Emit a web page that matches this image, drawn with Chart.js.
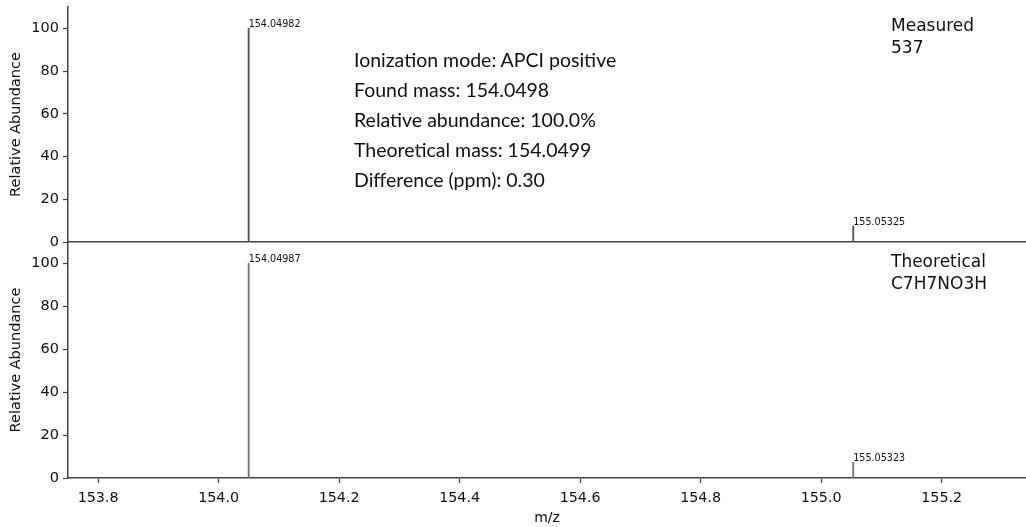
<!DOCTYPE html>
<html>
<head>
<meta charset="utf-8">
<script src="https://cdn.jsdelivr.net/npm/chart.js@4.4.1/dist/chart.umd.min.js"></script>
<style>
  body { margin: 0; background: #fff; }
  #wrap { position: relative; width: 1026px; height: 527px; overflow: hidden; }
  .panel { position: absolute; left: 0; width: 1026px; }
  .title { position: absolute; left: 891px; font: 17px "DejaVu Sans"; line-height: 22px; color: #111; }
  #info { position: absolute; left: 354px; top: 45px; font: 19.5px "Lato"; line-height: 30px; color: #111; }
</style>
</head>
<body>
<div id="wrap">
  <div class="panel" style="top:242px;height:285px"><canvas id="bottomChart"></canvas></div>
  <div class="panel" style="top:0;height:252px"><canvas id="topChart"></canvas></div>
  <div id="info">
    Ionization mode: APCI positive<br>
    Found mass: 154.0498<br>
    Relative abundance: 100.0%<br>
    Theoretical mass: 154.0499<br>
    Difference (ppm): 0.30
  </div>
  <div class="title" style="top:14px">Measured<br>537</div>
  <div class="title" style="top:250px">Theoretical<br>C7H7NO3H</div>
</div>
<script>
// peaks (m/z, relative abundance)
var measuredMz = [154.04982, 155.05325];
var measuredAb = [100, 7.5];
var theoreticalMz = [154.04987, 155.05323];
var theoreticalAb = [100, 7.3];

var xTicks = [153.8, 154.0, 154.2, 154.4, 154.6, 154.8, 155.0, 155.2];
var yTicks = [0, 20, 40, 60, 80, 100];

var axisColor = '#444';

// writes the m/z value above each stick
var peakLabels = {
    id: 'peakLabels',
    afterDatasetsDraw: function(chart) {
        var ctx = chart.ctx;
        var meta = chart.getDatasetMeta(0);
        var mz = chart.data.datasets[0].mzLabels;
        ctx.save();
        ctx.font = '9.6px "DejaVu Sans"';
        ctx.fillStyle = '#111';
        ctx.textBaseline = 'bottom';
        meta.data.forEach(function(bar, i) {
            ctx.fillText(mz[i].toFixed(5), bar.x, bar.y + 1);
        });
        ctx.restore();
    }
};

function makeChart(id, mz, ab, color, isBottom) {
    var points = [];
    for (var i = 0; i < mz.length; i++) {
        points.push({x: mz[i], y: ab[i]});
    }
    return new Chart(document.getElementById(id), {
        type: 'bar',
        data: {
            datasets: [{
                data: points,
                mzLabels: mz,
                backgroundColor: color,
                barThickness: 1.2,
                borderWidth: 0
            }]
        },
        options: {
            responsive: true,
            maintainAspectRatio: false,
            animation: false,
            layout: { padding: { top: isBottom ? 0 : 7, right: 0, left: 0, bottom: 0 } },
            plugins: { legend: { display: false }, tooltip: { enabled: false } },
            scales: {
                x: {
                    type: 'linear',
                    offset: false,
                    min: 153.75,
                    max: 155.34,
                    afterBuildTicks: function(s) { s.ticks = xTicks.map(function(v) { return {value: v}; }); },
                    afterFit: function(s) {
                        s.height = isBottom ? 49 : 10;
                        s.paddingLeft = 0;
                        s.paddingRight = 0;
                    },
                    border: { display: true, color: axisColor, width: 1.5 },
                    grid: { offset: false, drawOnChartArea: false, drawTicks: isBottom, tickLength: 5, color: axisColor, tickWidth: 1.2 },
                    ticks: {
                        display: isBottom,
                        padding: 7,
                        color: '#111',
                        font: { family: 'DejaVu Sans', size: 14.3 },
                        maxRotation: 0,
                        callback: function(v) { return v.toFixed(1); }
                    },
                    title: {
                        display: isBottom,
                        text: 'm/z',
                        color: '#111',
                        font: { family: 'DejaVu Sans', size: 14 },
                        padding: { top: 0, bottom: 0 }
                    }
                },
                y: {
                    min: 0,
                    max: 110,
                    afterBuildTicks: function(s) { s.ticks = yTicks.map(function(v) { return {value: v}; }); },
                    afterFit: function(s) {
                        s.width = 68;
                        s.paddingTop = 0;
                        s.paddingBottom = 0;
                    },
                    border: { display: true, color: axisColor, width: 1.5 },
                    grid: { drawOnChartArea: false, drawTicks: true, tickLength: 5, color: axisColor, tickWidth: 1.2 },
                    ticks: {
                        padding: 4,
                        color: '#111',
                        font: { family: 'DejaVu Sans', size: 14.5 }
                    },
                    title: {
                        display: true,
                        text: 'Relative Abundance',
                        color: '#111',
                        font: { family: 'DejaVu Sans', size: 14.5 },
                        padding: { top: 8, bottom: 0 }
                    }
                }
            }
        },
        plugins: [peakLabels]
    });
}

makeChart('topChart', measuredMz, measuredAb, '#555', false);
makeChart('bottomChart', theoreticalMz, theoreticalAb, '#777', true);
</script>
</body>
</html>
